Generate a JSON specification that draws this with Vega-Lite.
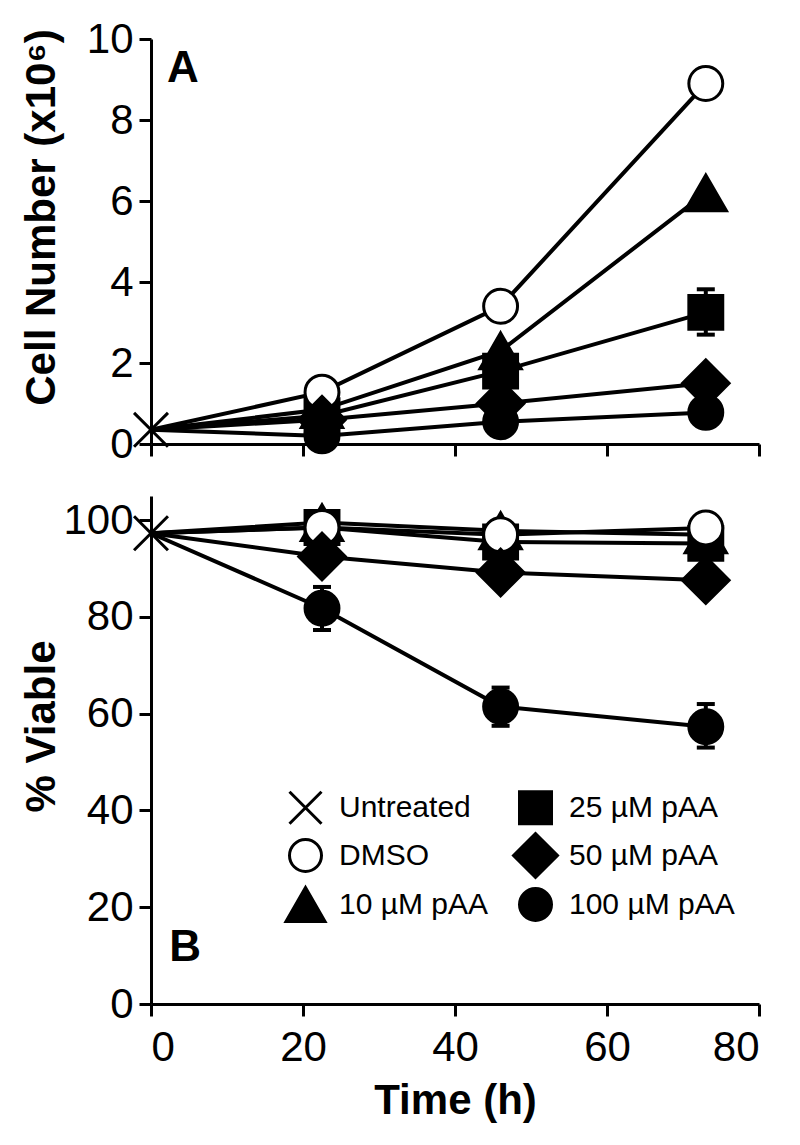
{
  "$schema": "https://vega.github.io/schema/vega-lite/v6.json",
  "background": "white",
  "padding": {"left": 19, "top": 18, "right": 10, "bottom": 10},
  "spacing": 31,
  "config": {
    "view": {"stroke": null},
    "font": "Liberation Sans",
    "axis": {
      "grid": false,
      "domainColor": "black",
      "domainWidth": 3,
      "tickColor": "black",
      "tickWidth": 3,
      "tickSize": 12,
      "labelFont": "Liberation Sans",
      "labelFontSize": 42,
      "labelColor": "black",
      "labelPadding": 6,
      "titleFont": "Liberation Sans",
      "titleFontSize": 42,
      "titleFontWeight": "bold",
      "titleColor": "black"
    }
  },
  "datasets": {
    "topObs": [
      {"series": "Untreated", "t": 0, "v": 0.35},
      {"series": "10 µM pAA", "t": 0, "v": 0.35},
      {"series": "10 µM pAA", "t": 22.5, "v": 0.85},
      {"series": "10 µM pAA", "t": 46, "v": 2.3},
      {"series": "10 µM pAA", "t": 73, "v": 6.2},
      {"series": "25 µM pAA", "t": 0, "v": 0.35},
      {"series": "25 µM pAA", "t": 22.5, "v": 0.7},
      {"series": "25 µM pAA", "t": 46, "v": 1.8},
      {"series": "25 µM pAA", "t": 73, "v": 3.25},
      {"series": "DMSO", "t": 0, "v": 0.35},
      {"series": "DMSO", "t": 22.5, "v": 1.28},
      {"series": "DMSO", "t": 46, "v": 3.4},
      {"series": "DMSO", "t": 73, "v": 8.9},
      {"series": "50 µM pAA", "t": 0, "v": 0.35},
      {"series": "50 µM pAA", "t": 22.5, "v": 0.6},
      {"series": "50 µM pAA", "t": 46, "v": 1.0},
      {"series": "50 µM pAA", "t": 73, "v": 1.5},
      {"series": "100 µM pAA", "t": 0, "v": 0.35},
      {"series": "100 µM pAA", "t": 22.5, "v": 0.2},
      {"series": "100 µM pAA", "t": 46, "v": 0.55},
      {"series": "100 µM pAA", "t": 73, "v": 0.78}
    ],
    "topErr": [
      {"series": "25 µM pAA", "t": 73, "lo": 2.7, "hi": 3.82}
    ],
    "botObs": [
      {"series": "Untreated", "t": 0, "v": 97.3},
      {"series": "10 µM pAA", "t": 0, "v": 97.3},
      {"series": "10 µM pAA", "t": 22.5, "v": 99.5},
      {"series": "10 µM pAA", "t": 46, "v": 97.8},
      {"series": "10 µM pAA", "t": 73, "v": 97},
      {"series": "25 µM pAA", "t": 0, "v": 97.3},
      {"series": "25 µM pAA", "t": 22.5, "v": 98.5},
      {"series": "25 µM pAA", "t": 46, "v": 95.5},
      {"series": "25 µM pAA", "t": 73, "v": 95.2},
      {"series": "DMSO", "t": 0, "v": 97.3},
      {"series": "DMSO", "t": 22.5, "v": 98.5},
      {"series": "DMSO", "t": 46, "v": 97},
      {"series": "DMSO", "t": 73, "v": 98.4},
      {"series": "50 µM pAA", "t": 0, "v": 97.3},
      {"series": "50 µM pAA", "t": 22.5, "v": 92.5},
      {"series": "50 µM pAA", "t": 46, "v": 89.2},
      {"series": "50 µM pAA", "t": 73, "v": 87.6},
      {"series": "100 µM pAA", "t": 0, "v": 97.3},
      {"series": "100 µM pAA", "t": 22.5, "v": 81.8},
      {"series": "100 µM pAA", "t": 46, "v": 61.5},
      {"series": "100 µM pAA", "t": 73, "v": 57.3}
    ],
    "botErr": [
      {"series": "100 µM pAA", "t": 22.5, "lo": 77.3, "hi": 86.2},
      {"series": "100 µM pAA", "t": 46, "lo": 57.5, "hi": 65.4},
      {"series": "100 µM pAA", "t": 73, "lo": 53, "hi": 62}
    ]
  },
  "resolve": {
    "scale": {"x": "independent", "y": "independent", "shape": "independent", "fill": "independent"},
    "legend": {"shape": "independent", "fill": "independent"}
  },
  "vconcat": [
    {
      "width": 608,
      "height": 405,
      "layer": [
        {
          "data": {"name": "topObs"},
          "mark": {"type": "line", "color": "black", "strokeWidth": 4},
          "encoding": {
            "x": {"field": "t", "type": "quantitative", "scale": {"domain": [0, 80], "nice": false},
                  "axis": {"values": [0, 20, 40, 60, 80], "labels": false, "title": null}},
            "y": {"field": "v", "type": "quantitative", "scale": {"domain": [0, 10], "nice": false},
                  "axis": {"values": [0, 2, 4, 6, 8, 10], "title": "Cell Number (x10⁶)", "titleX": -97, "titleY": 178, "titleBaseline": "alphabetic"}},
            "detail": {"field": "series"}
          }
        },
        {
          "data": {"name": "topErr"},
          "mark": {"type": "rule", "color": "black", "strokeWidth": 4},
          "encoding": {
            "x": {"field": "t", "type": "quantitative"},
            "y": {"field": "lo", "type": "quantitative"},
            "y2": {"field": "hi"}
          }
        },
        {
          "data": {"name": "topErr"},
          "mark": {"type": "tick", "orient": "horizontal", "color": "black", "size": 18, "thickness": 4, "opacity": 1},
          "encoding": {
            "x": {"field": "t", "type": "quantitative"},
            "y": {"field": "hi", "type": "quantitative"}
          }
        },
        {
          "data": {"name": "topErr"},
          "mark": {"type": "tick", "orient": "horizontal", "color": "black", "size": 18, "thickness": 4, "opacity": 1},
          "encoding": {
            "x": {"field": "t", "type": "quantitative"},
            "y": {"field": "lo", "type": "quantitative"}
          }
        },
        {
          "data": {"name": "topObs"},
          "transform": [{"filter": "datum.t > 0 || datum.series === 'Untreated'"}],
          "mark": {"type": "point", "filled": true, "size": 1150, "stroke": "black", "strokeWidth": 3, "opacity": 1, "fillOpacity": 1, "strokeOpacity": 1},
          "encoding": {
            "x": {"field": "t", "type": "quantitative"},
            "y": {"field": "v", "type": "quantitative"},
            "shape": {"field": "series", "type": "nominal", "legend": null,
              "scale": {"domain": ["Untreated", "DMSO", "10 µM pAA", "25 µM pAA", "50 µM pAA", "100 µM pAA"],
                        "range": ["M-1,-1L1,1M-1,1L1,-1", "circle", "M0,-1.06L1.22,1.06L-1.22,1.06Z", "square", "M-1.375,0L0,-1.375L1.375,0L0,1.375Z", "circle"]}},
            "fill": {"field": "series", "type": "nominal", "legend": null,
              "scale": {"domain": ["Untreated", "DMSO", "10 µM pAA", "25 µM pAA", "50 µM pAA", "100 µM pAA"],
                        "range": ["black", "white", "black", "black", "black", "black"]}}
          }
        },
        {
          "data": {"values": [{}]},
          "mark": {"type": "text", "text": "A", "font": "Liberation Sans", "fontSize": 44, "fontWeight": "bold", "align": "left", "baseline": "alphabetic", "color": "black"},
          "encoding": {
            "x": {"datum": 2.1, "type": "quantitative"},
            "y": {"datum": 8.94, "type": "quantitative"}
          }
        }
      ]
    },
    {
      "width": 608,
      "height": 508,
      "layer": [
        {
          "data": {"name": "botObs"},
          "mark": {"type": "line", "color": "black", "strokeWidth": 4},
          "encoding": {
            "x": {"field": "t", "type": "quantitative", "scale": {"domain": [0, 80], "nice": false},
                  "axis": {"values": [0, 20, 40, 60, 80], "title": "Time (h)", "titlePadding": 12, "labelPadding": 11}},
            "y": {"field": "v", "type": "quantitative", "scale": {"domain": [0, 105], "nice": false},
                  "axis": {"values": [0, 20, 40, 60, 80, 100], "title": "% Viable", "titleX": -97, "titleY": 230, "titleBaseline": "alphabetic"}},
            "detail": {"field": "series"}
          }
        },
        {
          "data": {"name": "botErr"},
          "mark": {"type": "rule", "color": "black", "strokeWidth": 4},
          "encoding": {
            "x": {"field": "t", "type": "quantitative"},
            "y": {"field": "lo", "type": "quantitative"},
            "y2": {"field": "hi"}
          }
        },
        {
          "data": {"name": "botErr"},
          "mark": {"type": "tick", "orient": "horizontal", "color": "black", "size": 18, "thickness": 4, "opacity": 1},
          "encoding": {
            "x": {"field": "t", "type": "quantitative"},
            "y": {"field": "hi", "type": "quantitative"}
          }
        },
        {
          "data": {"name": "botErr"},
          "mark": {"type": "tick", "orient": "horizontal", "color": "black", "size": 18, "thickness": 4, "opacity": 1},
          "encoding": {
            "x": {"field": "t", "type": "quantitative"},
            "y": {"field": "lo", "type": "quantitative"}
          }
        },
        {
          "data": {"name": "botObs"},
          "transform": [{"filter": "datum.t > 0 || datum.series === 'Untreated'"}],
          "mark": {"type": "point", "filled": true, "size": 1150, "stroke": "black", "strokeWidth": 3, "opacity": 1, "fillOpacity": 1, "strokeOpacity": 1},
          "encoding": {
            "x": {"field": "t", "type": "quantitative"},
            "y": {"field": "v", "type": "quantitative"},
            "shape": {"field": "series", "type": "nominal",
              "scale": {"domain": ["Untreated", "DMSO", "10 µM pAA", "25 µM pAA", "50 µM pAA", "100 µM pAA"],
                        "range": ["M-1,-1L1,1M-1,1L1,-1", "circle", "M0,-1.06L1.22,1.06L-1.22,1.06Z", "square", "M-1.375,0L0,-1.375L1.375,0L0,1.375Z", "circle"]},
              "legend": {"title": null, "orient": "none", "legendX": 137, "legendY": 294, "columns": 2, "padding": 0,
                         "symbolSize": 1024, "symbolStrokeWidth": 3, "symbolStrokeColor": "black", "symbolOpacity": 1,
                         "labelFont": "Liberation Sans", "labelFontSize": 30, "labelColor": "black", "labelOffset": 16,
                         "columnPadding": 18, "rowPadding": -3, "labelLimit": 400,
                         "encode": {"symbols": {"update": {"stroke": {"value": "black"}, "strokeWidth": {"value": 3}, "opacity": {"value": 1}}}}}},
            "fill": {"field": "series", "type": "nominal",
              "scale": {"domain": ["Untreated", "DMSO", "10 µM pAA", "25 µM pAA", "50 µM pAA", "100 µM pAA"],
                        "range": ["black", "white", "black", "black", "black", "black"]},
              "legend": {"title": null, "orient": "none", "legendX": 137, "legendY": 294, "columns": 2, "padding": 0,
                         "symbolSize": 1024, "symbolStrokeWidth": 3, "symbolStrokeColor": "black", "symbolOpacity": 1,
                         "labelFont": "Liberation Sans", "labelFontSize": 30, "labelColor": "black", "labelOffset": 16,
                         "columnPadding": 18, "rowPadding": -3, "labelLimit": 400,
                         "encode": {"symbols": {"update": {"stroke": {"value": "black"}, "strokeWidth": {"value": 3}, "opacity": {"value": 1}}}}}}
          }
        },
        {
          "data": {"values": [{}]},
          "mark": {"type": "text", "text": "B", "font": "Liberation Sans", "fontSize": 44, "fontWeight": "bold", "align": "left", "baseline": "alphabetic", "color": "black"},
          "encoding": {
            "x": {"datum": 2.4, "type": "quantitative"},
            "y": {"datum": 8.9, "type": "quantitative"}
          }
        }
      ]
    }
  ]
}
